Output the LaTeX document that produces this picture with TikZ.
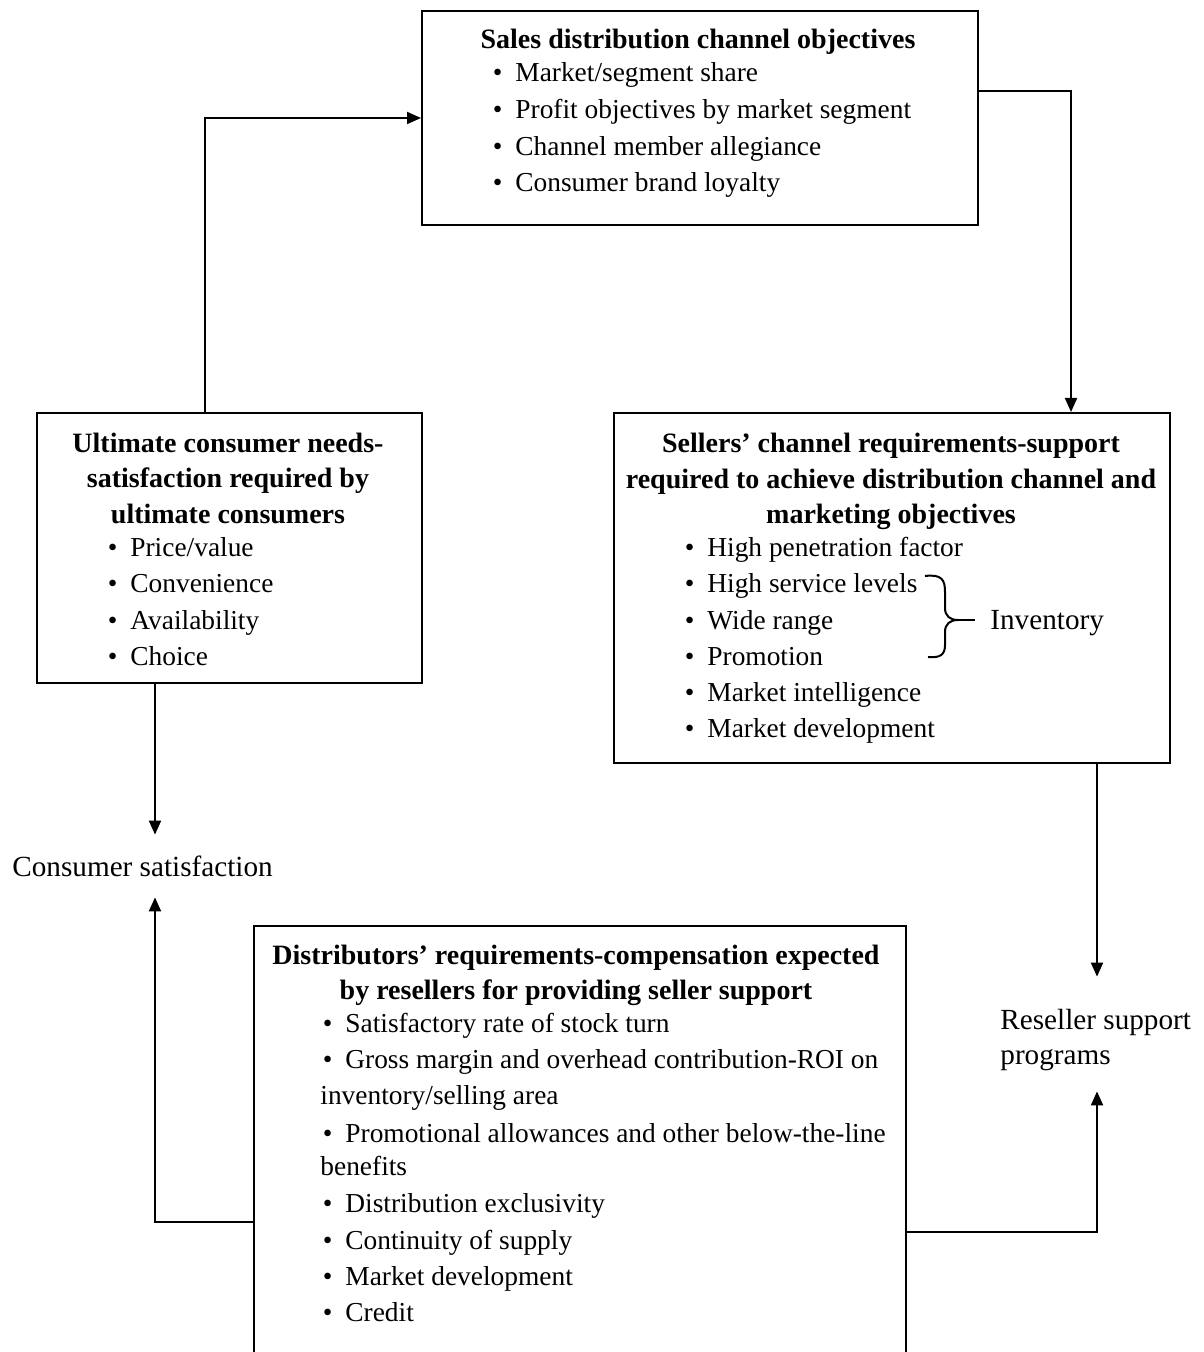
\documentclass[tikz,border=0pt]{standalone}
\usepackage{fontspec}
\setmainfont{Liberation Serif}
\usetikzlibrary{arrows.meta}
\newcommand\dfs{\fontsize{14}{17}\selectfont}
\newcommand\ifs{\fontsize{13.7}{17}\selectfont}
\newcommand\lfs{\fontsize{14.6}{17.5}\selectfont}
\begin{document}
\begin{tikzpicture}[x=0.5pt,y=-0.5pt,
  every node/.style={font=\ifs},
  box/.style={draw, line width=1pt, anchor=north west, inner sep=0pt},
  ttl/.style={font=\dfs\bfseries, anchor=base, inner sep=0pt},
  itm/.style={anchor=base west, inner sep=0pt, execute at begin node={\llap{\textbullet\hspace{6.5pt}}}},
  txt/.style={anchor=base west, inner sep=0pt},
  lbl/.style={font=\lfs, anchor=west, inner sep=0pt},
  arr/.style={line width=1pt, -{Triangle[length=7pt,width=6pt]}},
  ln/.style={line width=1pt}]
\useasboundingbox (0,0) rectangle (1203,1352);
\clip (0,0) rectangle (1203,1352);

% boxes
\node[box, minimum width=278pt, minimum height=107pt] (top) at (421,10) {};
\node[box, minimum width=192.5pt, minimum height=135pt] (left) at (36,412) {};
\node[box, minimum width=278pt, minimum height=175pt] (right) at (613,412) {};
\node[box, minimum width=326pt, minimum height=217.5pt] (bottom) at (253,925) {};

% top box text
\node[ttl] (tt) at (698,49) {Sales distribution channel objectives};
\node[itm] (t1) at (515,82) {Market/segment share};
\node[itm] (t2) at (515,119) {Profit objectives by market segment};
\node[itm] (t3) at (515,156) {Channel member allegiance};
\node[itm] (t4) at (515,192) {Consumer brand loyalty};

% left box text
\node[ttl] (lt1) at (228,452) {Ultimate consumer needs-};
\node[ttl] (lt2) at (228,487) {satisfaction required by};
\node[ttl] (lt3) at (228,523) {ultimate consumers};
\node[itm] (l1) at (130,556) {Price/value};
\node[itm] (l2) at (130,592) {Convenience};
\node[itm] (l3) at (130,629) {Availability};
\node[itm] (l4) at (130,665) {Choice};

% right box text
\node[ttl] (rt1) at (891,452) {Sellers’ channel requirements-support};
\node[ttl] (rt2) at (891,488) {required to achieve distribution channel and};
\node[ttl] (rt3) at (891,523) {marketing objectives};
\node[itm] (r1) at (707,556) {High penetration factor};
\node[itm] (r2) at (707,592) {High service levels};
\node[itm] (r3) at (707,629) {Wide range};
\node[itm] (r4) at (707,665) {Promotion};
\node[itm] (r5) at (707,701) {Market intelligence};
\node[itm] (r6) at (707,737) {Market development};
\node[txt, font=\lfs] (inv) at (990,629) {Inventory};
\draw[ln] (925,576) .. controls (942,574) and (945,580) .. (945,592)
  -- (945,608) .. controls (945,616) and (950,620) .. (958,620)
  .. controls (950,620) and (945,624) .. (945,632)
  -- (945,645) .. controls (945,655) and (940,658) .. (928,657);
\draw[ln] (958,620) -- ([xshift=-7.5pt]inv.west |- 0,620);

% bottom box text
\node[ttl] (bt1) at (576,964) {Distributors’ requirements-compensation expected};
\node[ttl] (bt2) at (576,999) {by resellers for providing seller support};
\node[itm] (b1) at (345,1032) {Satisfactory rate of stock turn};
\node[itm] (b2) at (345,1068) {Gross margin and overhead contribution-ROI on};
\node[txt] (b2c) at (320,1104) {inventory/selling area};
\node[itm] (b3) at (345,1142) {Promotional allowances and other below-the-line};
\node[txt] (b3c) at (320,1175) {benefits};
\node[itm] (b4) at (345,1212) {Distribution exclusivity};
\node[itm] (b5) at (345,1249) {Continuity of supply};
\node[itm] (b6) at (345,1285) {Market development};
\node[itm] (b7) at (345,1321) {Credit};

% free-standing labels
\node[lbl, minimum height=31pt] (cs) at (12,866) {Consumer satisfaction};
\node[lbl, minimum height=63pt, align=left] (rsp) at (1000,1040) {Reseller support\\programs};

% connectors
\coordinate (lx) at ([xshift=59.5pt]left.south west);
\coordinate (rx) at ([xshift=242pt]right.south west);
\coordinate (rsb) at ([yshift=6pt]rsp.south);
\draw[arr] ([xshift=84.5pt]left.north west) |- (top.west);
\draw[arr] ([yshift=13.5pt]top.east) -| ([xshift=229pt]right.north west);
\draw[arr] (lx) -- (lx |- cs.north);
\draw[arr] ([yshift=-148.5pt]bottom.north west) -| (lx |- cs.south);
\draw[arr] (rx) -- (rx |- rsp.north);
\draw[arr] ([yshift=-153.5pt]bottom.north east) -| (rx |- rsb);
\end{tikzpicture}
\end{document}
